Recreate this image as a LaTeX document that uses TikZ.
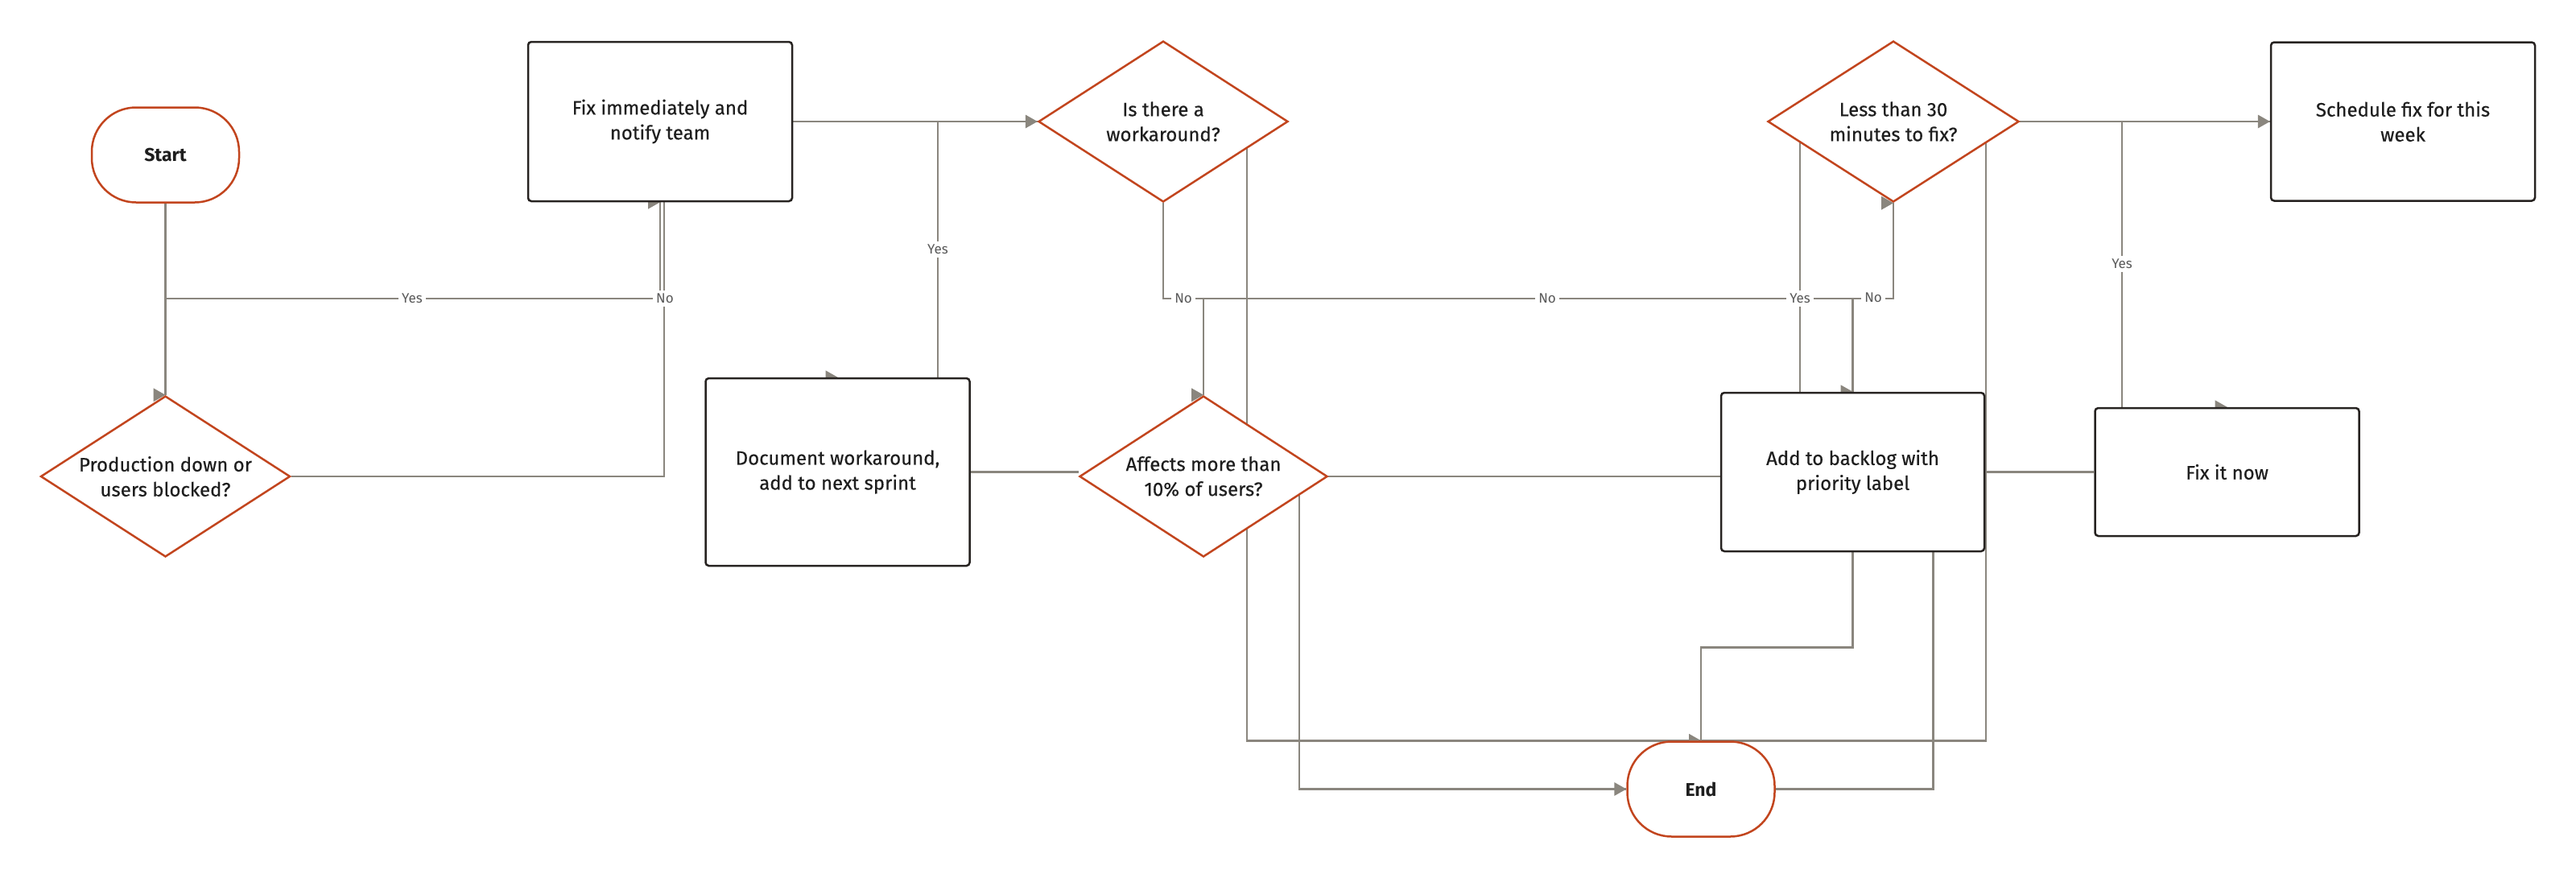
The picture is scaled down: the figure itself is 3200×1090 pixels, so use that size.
\documentclass[tikz,border=0pt]{standalone}
\usepackage{fontspec}
\setmainfont{Fira Sans}
\newfontfamily\medfont{Fira Sans}[FakeBold=0.4]
\usetikzlibrary{shapes.geometric,calc}
\pgfdeclarelayer{bg}
\pgfsetlayers{bg,main}
\definecolor{edgec}{HTML}{8A867E}
\definecolor{decc}{HTML}{C2451E}
\definecolor{boxc}{HTML}{262220}
\definecolor{txtc}{HTML}{1E1E1E}
\definecolor{lblc}{HTML}{5A5A5A}
\tikzset{
  base/.style={fill=white, text=txtc, align=center, font=\medfont\fontsize{24}{31}\selectfont, inner sep=0pt},
  proc/.style={base, draw=boxc, line width=2.5pt, rounded corners=4pt, rectangle},
  dec/.style={base, draw=decc, line width=2.5pt, diamond, aspect=1.55, minimum width=310pt, minimum height=200pt},
  term/.style={base, draw=decc, line width=2.5pt, rounded corners=55pt, rectangle, minimum width=183pt, minimum height=118pt, font=\fontsize{23}{31}\selectfont\bfseries},
  edge/.style={draw=edgec, line width=2.5pt},
  lbl/.style={fill=white, text=lblc, font=\fontsize{17}{20}\selectfont, inner sep=4pt},
}
\newcommand\etip[1]{\fill[edgec] (#1) -- ++(-15,-8.5) -- ++(0,17) -- cycle;}
\begin{document}
\begin{tikzpicture}[x=1pt,y=-1pt]
\useasboundingbox (0,0) rectangle (3200,1090);

% nodes
\node[term] (Start) at (205.5,192.5) {Start};
\node[dec] (D1) at (205.5,592) {Production down or\\users blocked?};
\node[proc, minimum width=328pt, minimum height=198pt] (Fix) at (820,151) {Fix immediately and\\notify team};
\node[dec] (D2) at (1445,151) {Is there a\\workaround?};
\node[proc, minimum width=328pt, minimum height=233pt] (Doc) at (1040.5,586.5) {Document workaround,\\add to next sprint};
\node[dec, minimum width=308pt] (D3) at (1495,592) {Affects more than\\10\% of users?};
\node[proc, minimum width=327pt, minimum height=197pt] (Backlog) at (2301.5,586.5) {Add to backlog with\\priority label};
\node[dec, minimum width=312pt] (D4) at (2352,151) {Less than 30\\minutes to fix?};
\node[proc, minimum width=328pt, minimum height=197pt] (Sched) at (2985,151) {Schedule fix for this\\week};
\node[proc, minimum width=328pt, minimum height=159pt] (FixNow) at (2766.5,586.5) {Fix it now};
\node[term] (End) at (2113,980.5) {End};

\begin{pgfonlayer}{bg}
\fill[white] (0,0) rectangle (3200,1090);
% connectors
\draw[edge] (Start.south) -- (D1.north);
\draw[edge] (D1.north) |- (820,371) -- (Fix.south);
\draw[edge] (D1.east) -| ($(Fix.south)+(5,0)$);
\draw[edge] (Fix.east) -- (D2.west);
\draw[edge] (D2.west) -| ($(Doc.north)+(124.5,0)$);
\draw[edge] (D2.south) |- (1495,371) -- (D3.north);
\draw[edge] ($(D2)+(104,0)$) |- (End.north);
\draw[edge] (Doc.east) -- (Doc.east -| D3.west);
\draw[edge] (D3.north) |- (2301.5,371) -- (Backlog.north);
\draw[edge] (D3.east) -- (D3.east -| Backlog.west);
\draw[edge] ($(D3)+(119,0)$) |- (End.west);
\draw[edge] ($(D4)+(-116,0)$) -- ($(Backlog.north)+(-65.5,0)$);
\draw[edge] (Backlog.north) -- (2301.5,371) -| (D4.south);
\draw[edge] ($(D4)+(115,0)$) |- (End.north);
\draw[edge] (Backlog.south) -- ++(0,118) -| (End.north);
\draw[edge] ($(Backlog)+(100,0)$) |- (End.east);
\draw[edge] (D4.east) -- (Sched.west);
\draw[edge] (D4.east) -| ($(FixNow.north)+(-130.5,0)$);
\draw[edge] (Backlog.east) -- (FixNow.west);
% arrow tips
\etip{D1.north}
\etip{Fix.south}
\etip{D2.west}
\etip{Doc.north}
\etip{D3.north}
\etip{Backlog.north}
\etip{D4.south}
\etip{End.north}
\etip{End.west}
\etip{Sched.west}
\etip{FixNow.north}
\end{pgfonlayer}

% connector labels
\node[lbl] (l1) at (512,371) {Yes};
\node[lbl] (l2) at (826,371) {No};
\node[lbl] (l3) at (1165,310) {Yes};
\node[lbl] (l4) at (1470,371) {No};
\node[lbl] (l5) at (1922,371) {No};
\node[lbl] (l6) at (2236,371) {Yes};
\node[lbl] (l7) at (2327,370) {No};
\node[lbl] (l8) at (2636,328) {Yes};
\end{tikzpicture}
\end{document}
